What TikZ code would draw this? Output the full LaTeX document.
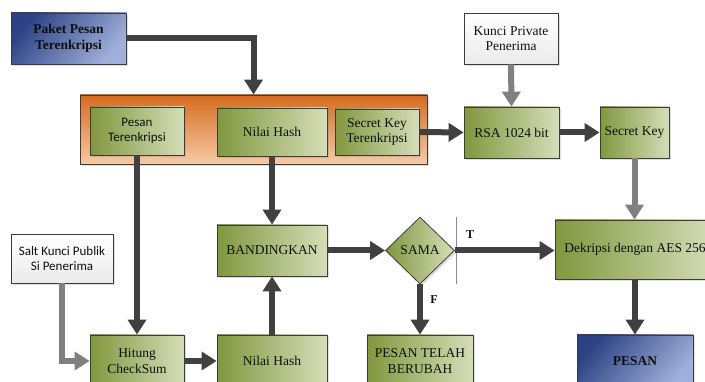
\documentclass[tikz,border=0pt]{standalone}
\usepackage{fontspec}
\setmainfont{Liberation Serif}
\newfontfamily\serf{Liberation Serif}
\newfontfamily\sansf{Carlito}
\usetikzlibrary{arrows.meta,shapes.geometric,shadows}
\definecolor{gD}{RGB}{128,152,62}
\definecolor{gL}{RGB}{214,221,184}
\definecolor{bD}{RGB}{44,66,132}
\definecolor{bL}{RGB}{160,176,218}
\definecolor{oD}{RGB}{214,108,32}
\definecolor{oL}{RGB}{247,202,164}
\definecolor{arrD}{RGB}{64,64,64}
\definecolor{arrG}{RGB}{128,128,128}
\definecolor{edge}{RGB}{60,60,60}
\definecolor{txt}{RGB}{15,15,15}
\tikzset{
  basebox/.style={draw=edge, line width=0.8pt, inner sep=1pt, align=center, text=txt,
    font=\serf\fontsize{13.5}{15.5}\selectfont,
    drop shadow={shadow xshift=2pt, shadow yshift=-2pt, opacity=0.25, fill=gray}},
  greenbox/.style={basebox, left color=gD, right color=gL},
  bluebox/.style={basebox, top color=bD, bottom color=bL, shading angle=50, font=\serf\fontsize{13.5}{15.5}\selectfont\bfseries},
  whitebox/.style={basebox, top color=white, bottom color=black!8},
  contbox/.style={draw=edge, line width=0.8pt, top color=oD, bottom color=oL,
    drop shadow={shadow xshift=2pt, shadow yshift=-2pt, opacity=0.25, fill=gray}},
  arrdark/.style={draw=arrD, line width=6pt, -{Triangle[width=18pt,length=15pt]}},
  arrgray/.style={draw=arrG, line width=6pt, -{Triangle[width=18pt,length=15pt]}},
  lbl/.style={font=\serf\fontsize{12}{14}\selectfont\bfseries, text=txt, inner sep=0pt},
}
\begin{document}
\begin{tikzpicture}[x=1pt,y=-1pt]
\useasboundingbox (0,0) rectangle (705,382);
% container
\node[contbox, minimum width=347pt, minimum height=69pt] (cont) at (253.5,129.5) {};
% nodes
\node[bluebox, minimum width=115pt, minimum height=51pt] (paket) at (68.5,38.5) {Paket Pesan\\Terenkripsi};
\node[greenbox, minimum width=94pt, minimum height=48pt, font=\sansf\fontsize{13}{15}\selectfont] (pesanT) at (137,131) {Pesan\\Terenkripsi};
\node[greenbox, minimum width=110pt, minimum height=48pt] (nilaiT) at (272,132) {Nilai Hash};
\node[greenbox, minimum width=84pt, minimum height=46pt] (skT) at (377,132) {Secret Key\\Terenkripsi};
\node[whitebox, minimum width=94pt, minimum height=51pt] (kunci) at (511,38.5) {Kunci Private\\Penerima};
\node[greenbox, minimum width=95pt, minimum height=51pt] (rsa) at (511.5,132.5) {RSA 1024 bit};
\node[greenbox, minimum width=69pt, minimum height=51pt] (sk) at (634.5,132.5) {Secret Key};
\node[whitebox, minimum width=102pt, minimum height=49pt, font=\sansf\fontsize{13}{15}\selectfont] (salt) at (62,258.5) {Salt Kunci Publik\\Si Penerima};
\node[greenbox, minimum width=110pt, minimum height=51pt] (band) at (272,250.5) {BANDINGKAN};
\node[greenbox, diamond, minimum width=69pt, minimum height=67pt, inner sep=0pt] (sama) at (420,250.5) {SAMA};
\node[greenbox, minimum width=160pt, minimum height=59pt] (dek) at (635,249.5) {Dekripsi dengan AES 256};
\node[greenbox, minimum width=106pt, minimum height=52pt] (ptb) at (420,361) {PESAN TELAH\\BERUBAH};
\node[bluebox, minimum width=116pt, minimum height=52pt] (pesan) at (635,361) {PESAN};
\node[greenbox, minimum width=94pt, minimum height=52pt] (hitung) at (137,361) {Hitung\\CheckSum};
\node[greenbox, minimum width=110pt, minimum height=52pt] (nilaiB) at (272,361) {Nilai Hash};
% divider line and labels
\coordinate (vt) at (456,217);
\coordinate (vb) at (456,284);
\draw[draw=black!45, line width=0.6pt] (vt) -- (vb);
\node[lbl] (tl) at (470,235) {T};
\node[lbl] (fl) at (434,300) {F};
% connectors
\draw[arrdark] (paket.east) -| (cont.north);
\draw[arrdark] (pesanT.south) -- (hitung.north);
\draw[arrdark] (nilaiT.south) -- (band.north);
\draw[arrdark] (skT.east) -- (rsa.west);
\draw[arrdark] (rsa.east) -- (sk.west);
\draw[arrgray] (kunci.south) -- (rsa.north);
\draw[arrgray] (sk.south) -- (sk.south |- dek.north);
\draw[arrgray] (salt.south) |- (hitung.west);
\draw[arrdark] (hitung.east) -- (nilaiB.west);
\draw[arrdark] (nilaiB.north) -- (band.south);
\draw[arrdark] (band.east) -- (sama.west);
\draw[arrdark] (sama.east) -- (sama.east -| dek.west);
\draw[arrdark] (sama.south) -- (ptb.north);
\draw[arrdark] (dek.south) -- (pesan.north);
\end{tikzpicture}
\end{document}
